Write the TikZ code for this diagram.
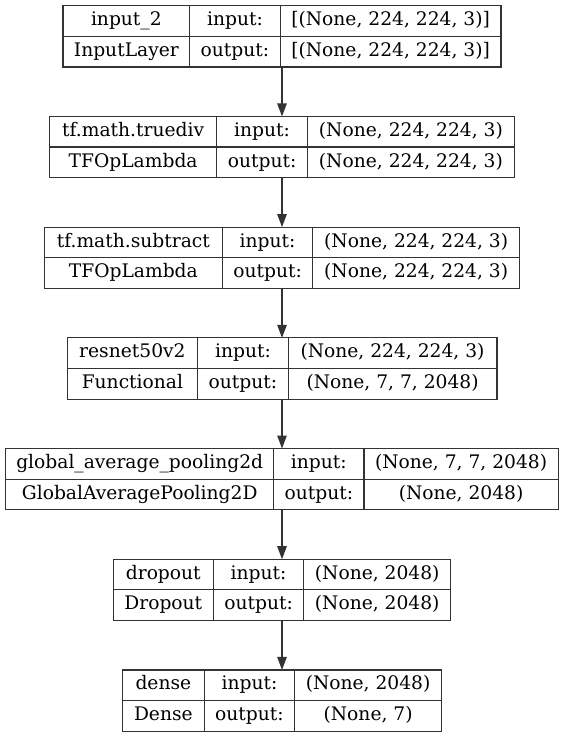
\documentclass[tikz,border=0pt]{standalone}
\usepackage{fontspec}
\setmainfont{DejaVu Serif}
\usetikzlibrary{arrows.meta}
\tikzset{
  frame/.style={draw=black!80, line width=1.2pt, inner sep=0pt, outer sep=0pt, minimum height=61.3pt},
  rule/.style={draw=black!80, line width=1.2pt},
  cell/.style={inner sep=0pt, text height=13.5pt, text depth=4pt, font=\fontsize{18.67}{22}\selectfont},
  flow/.style={draw=black!80, line width=1.2pt, -{Triangle[length=13pt,width=9.5pt]}}
}
\newcommand\kerasLayer[8]{%
  \node[frame, minimum width=#3pt] (#1) at (282,#2) {};
  \draw[rule] (#1.west) -- (#1.east);
  \path (#1.north west) ++(#4,0) coordinate (#1a) ++(90.5,0) coordinate (#1b);
  \draw[rule] (#1a) -- (#1a |- #1.south) (#1b) -- (#1b |- #1.south);
  \path (#1.north west) ++({#4/2},15.3) node[cell] (#1name) {#5}
    ++(0,30.6) node[cell] (#1type) {#6};
  \path (#1.north west) ++({#4+45.25},15.3) node[cell] (#1in) {input:}
    ++(0,30.6) node[cell] (#1out) {output:};
  \path (#1.north west) ++({(#4+90.5+#3)/2},15.3) node[cell] (#1inshape) {#7}
    ++(0,30.6) node[cell] (#1outshape) {#8};
}
\begin{document}
\begin{tikzpicture}[x=1pt,y=-1pt]
\useasboundingbox (0,0) rectangle (564,737);
\kerasLayer{l1}{36.35}{438}{126.7}{input\_2}{InputLayer}{[(None, 224, 224, 3)]}{[(None, 224, 224, 3)]}
\kerasLayer{l2}{147.05}{465.1}{167.4}{tf.math.truediv}{TFOpLambda}{(None, 224, 224, 3)}{(None, 224, 224, 3)}
\kerasLayer{l3}{257.75}{475.2}{177.9}{tf.math.subtract}{TFOpLambda}{(None, 224, 224, 3)}{(None, 224, 224, 3)}
\kerasLayer{l4}{368.45}{429.8}{130.6}{resnet50v2}{Functional}{(None, 224, 224, 3)}{(None, 7, 7, 2048)}
\kerasLayer{l5}{479.15}{552.3}{267.7}{global\_average\_pooling2d}{GlobalAveragePooling2D}{(None, 7, 7, 2048)}{(None, 2048)}
\kerasLayer{l6}{589.85}{337.4}{100}{dropout}{Dropout}{(None, 2048)}{(None, 2048)}
\kerasLayer{l7}{700.55}{319}{81.7}{dense}{Dense}{(None, 2048)}{(None, 7)}
\draw[flow] (l1.south) -- (l2.north);
\draw[flow] (l2.south) -- (l3.north);
\draw[flow] (l3.south) -- (l4.north);
\draw[flow] (l4.south) -- (l5.north);
\draw[flow] (l5.south) -- (l6.north);
\draw[flow] (l6.south) -- (l7.north);
\end{tikzpicture}
\end{document}
